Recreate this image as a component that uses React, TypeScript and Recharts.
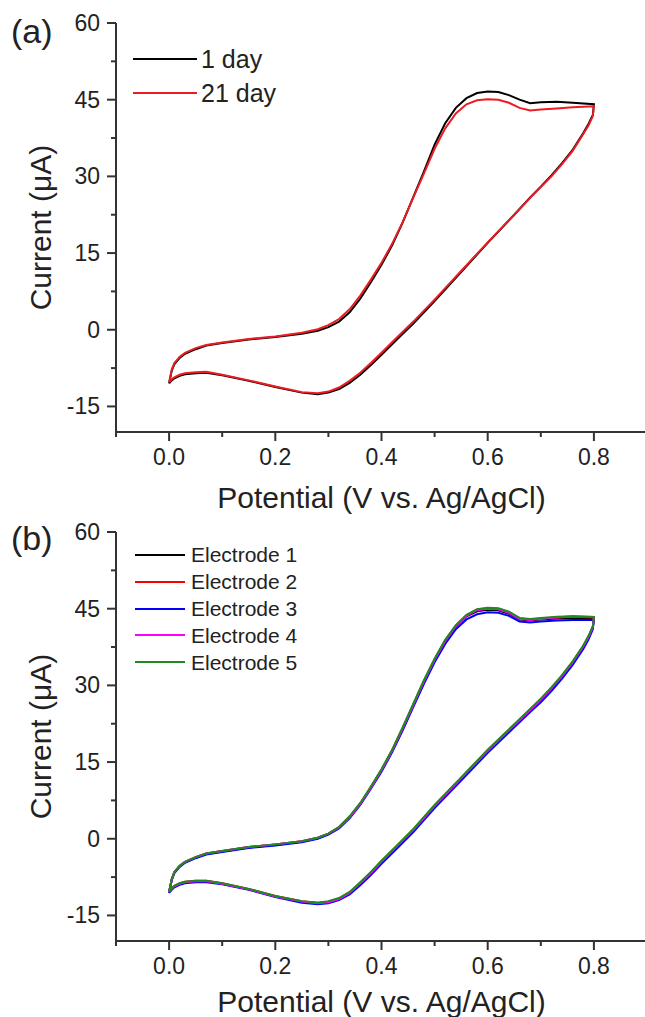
import { LineChart, Line, XAxis, YAxis, Legend } from "recharts";

const FONT = "Arial, 'Liberation Sans', sans-serif";
const INK = "#222";
const AXIS = "#333";

// potential sweep (V vs. Ag/AgCl): forward 0 -> 0.8, then back to 0
const POTENTIAL = [
  0, 0.005, 0.01, 0.02, 0.03, 0.05, 0.07, 0.1, 0.15, 0.2, 0.25, 0.28, 0.3, 0.32, 0.34, 0.36, 0.38, 0.4,
  0.42, 0.44, 0.46, 0.48, 0.5, 0.52, 0.54, 0.56, 0.58, 0.6, 0.62, 0.64, 0.66, 0.68, 0.7, 0.73, 0.76, 0.8,
  0.798, 0.79, 0.78, 0.76, 0.74, 0.72, 0.7, 0.68, 0.65, 0.6, 0.55, 0.5, 0.46, 0.43, 0.4, 0.38,
  0.36, 0.34, 0.32, 0.3, 0.28, 0.25, 0.2, 0.15, 0.1, 0.07, 0.05, 0.03, 0.02, 0.01, 0.005, 0,
];

const X_TICKS = [-0.1, 0, 0.1, 0.2, 0.3, 0.4, 0.5, 0.6, 0.7, 0.8, 0.9];
const Y_TICKS = [-15, -7.5, 0, 7.5, 15, 22.5, 30, 37.5, 45, 52.5, 60];

// panel (a), current in uA
const DAY_1 = [
  -10.5, -8.0, -6.7, -5.5, -4.7, -3.8, -3.1, -2.6, -1.9, -1.4, -0.8, -0.2, 0.5, 1.6, 3.4, 6.1, 9.3, 12.7,
  16.5, 21.0, 26.0, 31.0, 36.2, 40.4, 43.4, 45.3, 46.3, 46.6, 46.5, 45.9, 45.0, 44.3, 44.5, 44.6, 44.4, 44.1,
  42.0, 40.3, 38.5, 35.2, 32.6, 30.2, 28.0, 25.9, 22.5, 17.0, 11.3, 5.6, 1.2, -1.8, -4.9, -6.9,
  -8.8, -10.4, -11.6, -12.3, -12.6, -12.3, -11.2, -10.0, -8.9, -8.4, -8.5, -8.7, -9.0, -9.5, -9.9, -10.5,
];
const DAY_21 = [
  -10.3, -7.8, -6.5, -5.3, -4.5, -3.6, -3.0, -2.5, -1.8, -1.3, -0.6, 0.1, 0.9, 2.1, 4.0, 6.7, 9.8, 13.1,
  16.8, 21.1, 25.9, 30.6, 35.4, 39.4, 42.3, 44.1, 44.9, 45.1, 45.0, 44.4, 43.4, 42.9, 43.1, 43.3, 43.5, 43.7,
  41.8, 40.0, 38.3, 35.0, 32.4, 30.0, 27.9, 25.8, 22.5, 17.1, 11.5, 5.9, 1.6, -1.4, -4.5, -6.5,
  -8.4, -10.0, -11.3, -12.1, -12.4, -12.2, -11.1, -9.9, -8.8, -8.2, -8.3, -8.5, -8.8, -9.3, -9.7, -10.3,
];

// panel (b), current in uA
const ELECTRODE_1 = [
  -10.5, -8.0, -6.6, -5.4, -4.6, -3.7, -3.0, -2.5, -1.7, -1.2, -0.6, 0.1, 0.9, 2.2, 4.2, 6.8, 10.0, 13.4,
  17.2, 21.6, 26.2, 30.8, 35.0, 38.6, 41.5, 43.5, 44.5, 44.8, 44.7, 44.0, 42.9, 42.7, 42.9, 43.1, 43.2, 43.1,
  41.4, 39.5, 37.6, 34.5, 31.8, 29.4, 27.2, 25.2, 22.2, 17.2, 11.8, 6.4, 1.7, -1.4, -4.5, -6.7,
  -8.7, -10.6, -11.8, -12.4, -12.6, -12.3, -11.3, -9.9, -8.8, -8.3, -8.3, -8.5, -8.8, -9.3, -9.8, -10.5,
];
const ELECTRODE_2 = [
  -10.4, -7.9, -6.5, -5.3, -4.5, -3.6, -2.9, -2.4, -1.6, -1.1, -0.5, 0.2, 1.0, 2.3, 4.3, 6.9, 10.1, 13.5,
  17.3, 21.7, 26.3, 30.9, 35.1, 38.8, 41.7, 43.7, 44.8, 45.1, 45.0, 44.3, 43.1, 42.9, 43.1, 43.3, 43.4, 43.3,
  41.5, 39.6, 37.7, 34.6, 31.9, 29.5, 27.3, 25.3, 22.3, 17.3, 11.9, 6.5, 1.8, -1.3, -4.4, -6.6,
  -8.6, -10.5, -11.7, -12.3, -12.5, -12.2, -11.2, -9.8, -8.7, -8.2, -8.2, -8.4, -8.7, -9.2, -9.7, -10.4,
];
const ELECTRODE_3 = [
  -10.6, -8.1, -6.7, -5.5, -4.7, -3.8, -3.1, -2.6, -1.8, -1.3, -0.7, 0.0, 0.8, 2.0, 4.0, 6.6, 9.8, 13.1,
  16.9, 21.2, 25.8, 30.3, 34.5, 38.1, 41.0, 42.9, 43.9, 44.3, 44.2, 43.6, 42.5, 42.3, 42.5, 42.7, 42.8, 42.8,
  41.0, 39.0, 37.1, 34.0, 31.3, 28.9, 26.7, 24.8, 21.8, 16.8, 11.4, 6.0, 1.3, -1.8, -4.9, -7.1,
  -9.1, -10.9, -12.0, -12.6, -12.8, -12.5, -11.4, -10.0, -8.9, -8.5, -8.5, -8.7, -9.0, -9.5, -10.0, -10.6,
];
const ELECTRODE_4 = [
  -10.4, -7.9, -6.5, -5.3, -4.5, -3.6, -2.9, -2.4, -1.6, -1.1, -0.5, 0.2, 1.0, 2.2, 4.2, 6.8, 10.0, 13.4,
  17.2, 21.6, 26.2, 30.8, 35.0, 38.7, 41.6, 43.6, 44.7, 45.0, 44.9, 44.2, 43.0, 42.8, 43.0, 43.3, 43.5, 43.4,
  41.4, 39.5, 37.6, 34.5, 31.8, 29.4, 27.2, 25.2, 22.2, 17.2, 11.8, 6.4, 1.7, -1.4, -4.5, -6.7,
  -8.7, -10.6, -11.8, -12.4, -12.6, -12.3, -11.3, -9.9, -8.8, -8.3, -8.3, -8.5, -8.8, -9.3, -9.8, -10.4,
];
const ELECTRODE_5 = [
  -10.3, -7.9, -6.5, -5.3, -4.5, -3.6, -2.9, -2.4, -1.6, -1.1, -0.5, 0.2, 1.0, 2.3, 4.4, 7.0, 10.2, 13.6,
  17.4, 21.8, 26.4, 31.0, 35.2, 38.9, 41.8, 43.8, 44.9, 45.2, 45.1, 44.4, 43.2, 43.0, 43.2, 43.4, 43.5, 43.4,
  41.6, 39.7, 37.8, 34.7, 32.0, 29.6, 27.4, 25.4, 22.4, 17.4, 12.0, 6.6, 1.9, -1.2, -4.3, -6.5,
  -8.5, -10.4, -11.6, -12.2, -12.5, -12.2, -11.2, -9.8, -8.7, -8.2, -8.2, -8.4, -8.7, -9.2, -9.7, -10.3,
];

type Series = { name: string; color: string; values: number[] };

const PANEL_A: Series[] = [
  { name: "1 day", color: "#000000", values: DAY_1 },
  { name: "21 day", color: "#ec1c24", values: DAY_21 },
];

const PANEL_B: Series[] = [
  { name: "Electrode 1", color: "#000000", values: ELECTRODE_1 },
  { name: "Electrode 2", color: "#ff0000", values: ELECTRODE_2 },
  { name: "Electrode 3", color: "#0000ff", values: ELECTRODE_3 },
  { name: "Electrode 4", color: "#ff00ff", values: ELECTRODE_4 },
  { name: "Electrode 5", color: "#1f8a1f", values: ELECTRODE_5 },
];

const toPoints = (values: number[]) => POTENTIAL.map((v, k) => ({ v, i: values[k] }));

// major ticks get a label, minor ticks are short
function XTick({ x, y, payload }: any) {
  const major = Math.round(payload.value * 10) % 2 === 0;
  return (
    <g>
      <line x1={x} y1={y} x2={x} y2={y + (major ? 9 : 5)} stroke={AXIS} strokeWidth={2} />
      {major && (
        <text x={x} y={y + 33} textAnchor="middle" fontSize={23} fontFamily={FONT} fill={INK}>
          {payload.value.toFixed(1)}
        </text>
      )}
    </g>
  );
}

function YTick({ x, y, payload }: any) {
  const major = payload.value % 15 === 0;
  return (
    <g>
      <line x1={x - (major ? 9 : 5)} y1={y} x2={x} y2={y} stroke={AXIS} strokeWidth={2} />
      {major && (
        <text x={x - 16} y={y + 8} textAnchor="end" fontSize={23} fontFamily={FONT} fill={INK}>
          {payload.value}
        </text>
      )}
    </g>
  );
}

function legendContent(rowH: number, lineLen: number, gap: number, fontSize: number) {
  return (props: any) => (
    <div style={{ fontFamily: FONT }}>
      {(props.payload || []).map((entry: any) => (
        <div key={entry.value} style={{ display: "flex", alignItems: "center", height: rowH }}>
          <svg width={lineLen} height={4} style={{ display: "block" }}>
            <line x1={0} y1={2} x2={lineLen} y2={2} stroke={entry.color} strokeWidth={2} />
          </svg>
          <span style={{ marginLeft: gap, fontSize, lineHeight: 1, color: INK, whiteSpace: "nowrap" }}>
            {entry.value}
          </span>
        </div>
      ))}
    </div>
  );
}

type PanelProps = {
  series: Series[];
  height: number;
  labelOffset: number;
  legend: { top: number; left: number; rowH: number; lineLen: number; gap: number; fontSize: number };
};

function CVPanel({ series, height, labelOffset, legend }: PanelProps) {
  return (
    <LineChart width={660} height={height} margin={{ top: 23, right: 13, bottom: 0, left: 56 }}>
      <XAxis
        xAxisId="top"
        orientation="top"
        type="number"
        domain={[-0.1, 0.9]}
        height={0}
        tick={false}
        tickLine={false}
        axisLine={{ stroke: AXIS, strokeWidth: 2 }}
      />
      <XAxis
        dataKey="v"
        type="number"
        domain={[-0.1, 0.9]}
        allowDataOverflow
        ticks={X_TICKS}
        interval={0}
        height={height - 432}
        tickSize={0}
        tickMargin={0}
        tickLine={false}
        tick={XTick}
        axisLine={{ stroke: AXIS, strokeWidth: 2 }}
        label={{
          value: "Potential (V vs. Ag/AgCl)",
          position: "insideBottom",
          offset: labelOffset,
          style: { fontSize: 30, fontFamily: FONT, fill: INK, textAnchor: "middle" },
        }}
      />
      <YAxis
        type="number"
        domain={[-20, 60]}
        allowDataOverflow
        ticks={Y_TICKS}
        interval={0}
        width={60}
        tickSize={0}
        tickMargin={0}
        tickLine={false}
        tick={YTick}
        axisLine={{ stroke: AXIS, strokeWidth: 2 }}
        label={{
          value: "Current (μA)",
          angle: -90,
          position: "left",
          offset: 16,
          style: { fontSize: 30, fontFamily: FONT, fill: INK, textAnchor: "middle" },
        }}
      />
      <Legend
        layout="vertical"
        align="center"
        verticalAlign="middle"
        wrapperStyle={{ top: legend.top, left: legend.left, width: "auto" }}
        content={legendContent(legend.rowH, legend.lineLen, legend.gap, legend.fontSize)}
      />
      {series.map((s) => (
        <Line
          key={s.name}
          data={toPoints(s.values)}
          dataKey="i"
          name={s.name}
          type="linear"
          stroke={s.color}
          strokeWidth={2}
          dot={false}
          activeDot={false}
          isAnimationActive={false}
        />
      ))}
    </LineChart>
  );
}

const panelLabel = (top: number): React.CSSProperties => ({
  position: "absolute",
  left: 11,
  top,
  fontSize: 34,
  lineHeight: 1,
  fontFamily: FONT,
  color: INK,
});

export default function App() {
  return (
    <div
      style={{
        position: "fixed",
        left: 0,
        top: 0,
        width: 645,
        height: 1017,
        overflow: "hidden",
        background: "#fff",
      }}
    >
      <div style={{ position: "absolute", left: 0, top: 0 }}>
        <CVPanel
          series={PANEL_A}
          height={520}
          labelOffset={12}
          legend={{ top: 42, left: 133, rowH: 34, lineLen: 64, gap: 4, fontSize: 25 }}
        />
      </div>
      <div style={{ position: "absolute", left: 0, top: 509 }}>
        <CVPanel
          series={PANEL_B}
          height={508}
          labelOffset={5}
          legend={{ top: 32.6, left: 135, rowH: 26.8, lineLen: 50, gap: 6, fontSize: 21 }}
        />
      </div>
      <div style={panelLabel(14)}>(a)</div>
      <div style={panelLabel(521)}>(b)</div>
    </div>
  );
}
